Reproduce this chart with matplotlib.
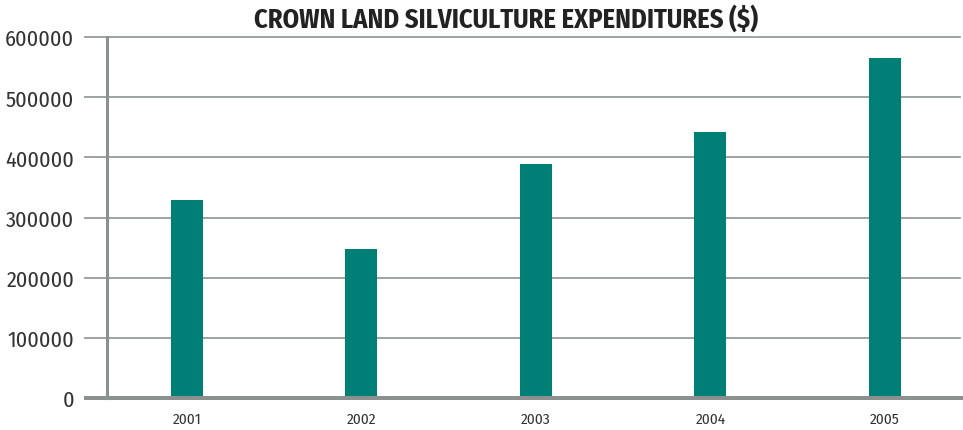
import matplotlib
matplotlib.use("Agg")
import matplotlib.pyplot as plt

plt.rcParams["font.family"] = ["Fira Sans Condensed", "DejaVu Sans"]

years = ["2001", "2002", "2003", "2004", "2005"]
expenditures = [329000, 247000, 389000, 442000, 565000]
y_ticks = [0, 100000, 200000, 300000, 400000, 500000, 600000]

TEAL = "#007f76"
GRID = "#8c9392"
AXIS = "#8a918f"
TEXT = "#333333"

fig = plt.figure(figsize=(9.63, 4.31), dpi=100)
ax = fig.add_axes([0.1111, 0.0742, 0.8858, 0.8376])

x = list(range(len(years)))
ax.bar(x, expenditures, width=0.183, color=TEAL, zorder=3)

ax.set_xlim(-0.458, 4.43)
ax.set_ylim(0, 600000)
ax.set_xticks(x)
ax.set_xticklabels(years)
ax.set_yticks(y_ticks)
ax.set_yticklabels([str(v) for v in y_ticks])

ax.yaxis.grid(True, color=GRID, linewidth=1.2, zorder=0)
for gl in ax.get_ygridlines():
    gl.set_clip_on(False)
ax.set_axisbelow(True)

ax.tick_params(axis="y", length=16.6, width=1.2, color=GRID, pad=7,
               labelsize=16, labelcolor=TEXT)
ax.tick_params(axis="x", length=0, pad=10, labelsize=11, labelcolor=TEXT)

for side in ["top", "right", "bottom"]:
    ax.spines[side].set_visible(False)
ax.spines["left"].set_color(AXIS)
ax.spines["left"].set_linewidth(2.2)
ax.spines["left"].set_zorder(4)

# bottom axis line runs out past the left spine, under the tick labels
ax.plot([-0.027, 1.004], [0, 0], transform=ax.transAxes, clip_on=False,
        color=AXIS, linewidth=2.9, solid_capstyle="butt", zorder=5)

fig.text(0.5255, 0.956, "CROWN LAND SILVICULTURE EXPENDITURES ($)",
         ha="center", va="center", fontsize=19, fontweight="bold", color="#222222")

fig.savefig("out.png", dpi=100)
